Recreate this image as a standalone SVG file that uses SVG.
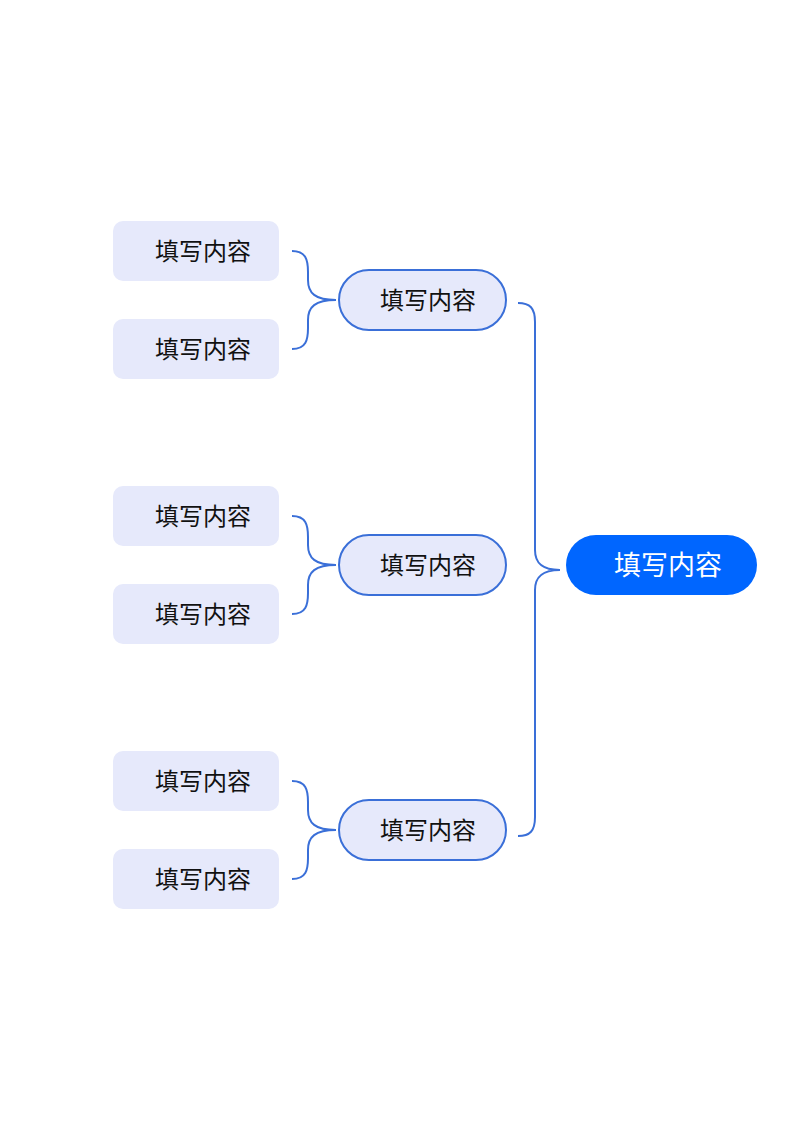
<svg xmlns="http://www.w3.org/2000/svg" width="800" height="1131" viewBox="0 0 800 1131">
<style>
.leaf{fill:#e6e9fb}
.mid{fill:#e6e9fb;stroke:#3a6fd8;stroke-width:2}
.root{fill:#0066ff}
.t{font-family:"Noto Sans CJK SC","Noto Sans",sans-serif;font-size:24px;fill:#111;text-anchor:middle}
.tr{font-family:"Noto Sans CJK SC","Noto Sans",sans-serif;font-size:27px;fill:#fff;text-anchor:middle}
.c{fill:none;stroke:#3a6fd8;stroke-width:2}
</style>
<rect width="800" height="1131" fill="#fff"/>
<g id="connectors">
<path class="c" d="M292,251 C306,251 308,260 308,272 L308,280 C308,293 315,300 336,300 M292,349 C306,349 308,340 308,328 L308,320 C308,307 315,300 336,300"/>
<path class="c" d="M292,516 C306,516 308,525 308,537 L308,545 C308,558 315,565 336,565 M292,614 C306,614 308,605 308,593 L308,585 C308,572 315,565 336,565"/>
<path class="c" d="M292,781 C306,781 308,790 308,802 L308,810 C308,823 315,830 336,830 M292,879 C306,879 308,870 308,858 L308,850 C308,837 315,830 336,830"/>
<path class="c" d="M518,303 C530,303 535,308 535,322 L535,550 C535,563 542,570 560,570 M518,836 C530,836 535,831 535,817 L535,590 C535,577 542,570 560,570"/>
</g>
<g id="root"><rect class="root" x="566" y="535" width="191" height="60" rx="30"/><text class="tr" x="668" y="575">填写内容</text></g>
<g id="mid1"><rect class="mid" x="339" y="270" width="167" height="60" rx="30"/><text class="t" x="428" y="309">填写内容</text></g>
<g id="mid2"><rect class="mid" x="339" y="535" width="167" height="60" rx="30"/><text class="t" x="428" y="574">填写内容</text></g>
<g id="mid3"><rect class="mid" x="339" y="800" width="167" height="60" rx="30"/><text class="t" x="428" y="839">填写内容</text></g>
<g id="leaf1"><rect class="leaf" x="113" y="221" width="166" height="60" rx="10"/><text class="t" x="203" y="260">填写内容</text></g>
<g id="leaf2"><rect class="leaf" x="113" y="319" width="166" height="60" rx="10"/><text class="t" x="203" y="358">填写内容</text></g>
<g id="leaf3"><rect class="leaf" x="113" y="486" width="166" height="60" rx="10"/><text class="t" x="203" y="525">填写内容</text></g>
<g id="leaf4"><rect class="leaf" x="113" y="584" width="166" height="60" rx="10"/><text class="t" x="203" y="623">填写内容</text></g>
<g id="leaf5"><rect class="leaf" x="113" y="751" width="166" height="60" rx="10"/><text class="t" x="203" y="790">填写内容</text></g>
<g id="leaf6"><rect class="leaf" x="113" y="849" width="166" height="60" rx="10"/><text class="t" x="203" y="888">填写内容</text></g>
</svg>
